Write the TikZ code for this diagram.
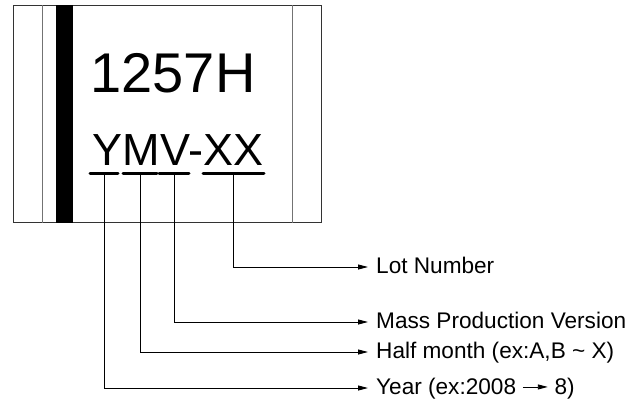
\documentclass[tikz,border=0pt]{standalone}
\usepackage{fontspec}
\setmainfont{Liberation Sans}
\usetikzlibrary{positioning}
\usetikzlibrary{arrows.meta}
\tikzstyle{chip} = [rectangle, draw=black!80, line width=1.3pt, fill=white, anchor=north west, minimum width=308pt, minimum height=217pt]
\tikzstyle{stripe} = [draw=black!55, line width=0.9pt]
\tikzstyle{bar} = [fill=black]
\tikzstyle{ul} = [draw, line width=3pt, line cap=round]
\tikzstyle{line} = [draw, line width=0.9pt, -{Triangle[length=10pt,width=5pt]}]
\tikzstyle{desc} = [anchor=west, inner xsep=8pt, inner ysep=0pt, text height=13.5pt, text depth=0pt, font=\fontsize{22.6}{26}\selectfont]
\begin{document}
\begin{tikzpicture}[x=1pt, y=-1pt]
			\useasboundingbox (0,0) rectangle (632,399);
			% package outline
			\node [chip] (chip) at (13,5) {};
			\path [stripe] ([xshift=29pt]chip.north west) -- ([xshift=29pt]chip.south west);
			\path [bar] ([xshift=43pt]chip.north west) rectangle ([xshift=60pt]chip.south west);
			\path [stripe] ([xshift=-30pt]chip.north east) -- ([xshift=-30pt]chip.south east);
			% marking
			\node [font=\fontsize{56}{62}\selectfont, inner sep=0pt, anchor=base] (part) at (173,92) {1257H};
			\node [font=\fontsize{45}{50}\selectfont, inner sep=0pt, anchor=base] (code) at (178,165) {YMV-XX};
			\coordinate (yr) at (104,173);
			\coordinate (mon) at (140,173);
			\coordinate (ver) at (174,173);
			\coordinate (lot) at (233.5,173);
			\path [ul] ([xshift=-14pt]yr) -- ([xshift=14pt]yr);
			\path [ul] ([xshift=-17pt]mon) -- ([xshift=17pt]mon);
			\path [ul] ([xshift=-15pt]ver) -- ([xshift=15pt]ver);
			\path [ul] ([xshift=-30.5pt]lot) -- ([xshift=30.5pt]lot);
			% legend
			\node [desc] (lotlbl) at (368,267) {Lot Number};
			\node [desc] (verlbl) at (368,322) {Mass Production Version};
			\node [desc] (monlbl) at (368,352) {Half month (ex:A,B \textasciitilde{} X)};
			\node [desc] (yrlbl) at (368,388) {Year (ex:2008 \tikz[baseline]{\draw[line width=0.9pt, -{Triangle[length=10pt,width=5pt]}] (0pt,7.8pt) -- (25pt,7.8pt);} 8)};
			\path [line] (lot) |- (lotlbl.west);
			\path [line] (ver) |- (verlbl.west);
			\path [line] (mon) |- (monlbl.west);
			\path [line] (yr) |- (yrlbl.west);
\end{tikzpicture}
\end{document}
